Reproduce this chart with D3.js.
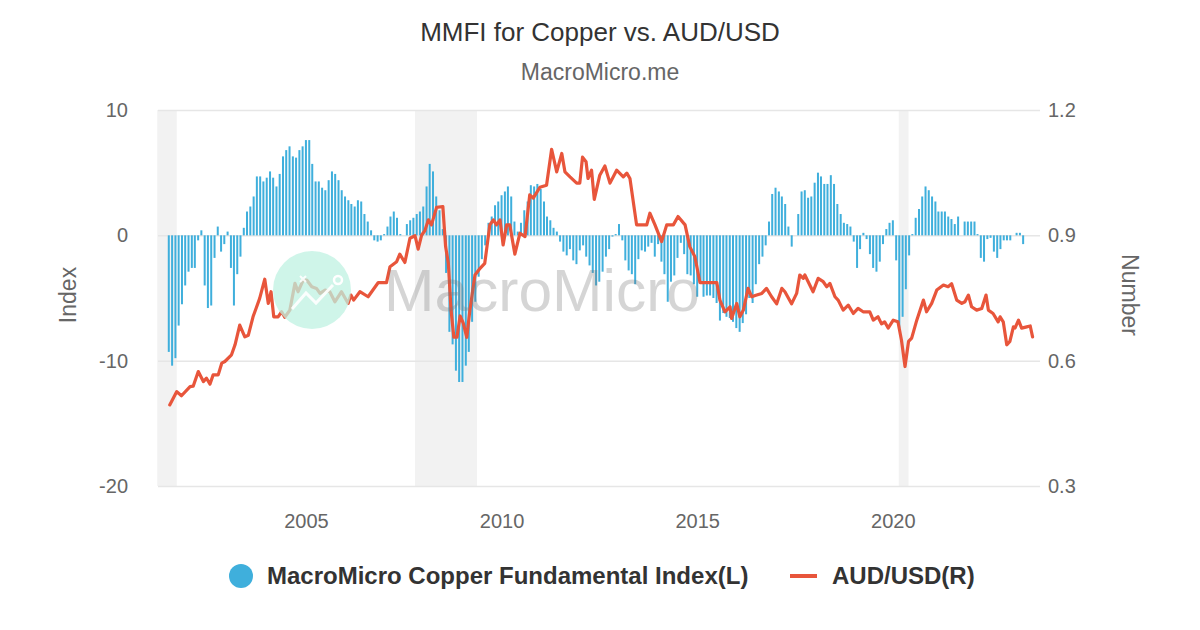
<!DOCTYPE html>
<html><head><meta charset="utf-8">
<script src="https://cdn.jsdelivr.net/npm/d3@7"></script>
<style>
body{margin:0;background:#fff;}
svg{display:block;font-family:"Liberation Sans",Arial,Helvetica,sans-serif;}
</style>
</head><body>
<svg id="chart" width="1200" height="630"></svg>
<script>
// ---------- DATA ----------
const titleText = "MMFI for Copper vs. AUD/USD";
const subtitleText = "MacroMicro.me";
const seriesNames = ["MacroMicro Copper Fundamental Index(L)", "AUD/USD(R)"];
const leftAxisTitle = "Index";
const rightAxisTitle = "Number";

// monthly index, first bar = July 2001
const copperStart = [2001, 7];
const copperIndex = [
 -9.3,-10.4,-9.8,-7.2,-5.5,-4.0,-2.9,-2.6,-2.6,-0.4,0.4,-4.0,
 -5.8,-5.6,-1.8,0.7,-1.3,-0.7,0.3,-2.6,-5.6,-3.1,-1.7,0.6,
 1.9,2.3,3.1,4.7,4.7,4.3,4.6,5.1,4.6,3.9,4.9,6.3,
 6.8,7.1,6.3,6.2,6.8,7.1,7.6,7.6,5.7,4.3,4.3,3.8,
 3.6,4.4,5.1,4.9,4.4,3.6,3.1,2.8,2.5,2.3,2.8,2.7,
 1.7,1.1,0.4,-0.4,-0.5,-0.4,0.1,0.7,1.5,1.9,1.4,0.1,
 0.0,0.9,1.2,1.4,1.7,1.9,2.3,3.9,5.7,5.1,3.1,2.0,
 0.5,-3.0,-7.7,-8.7,-10.8,-11.7,-11.7,-10.4,-9.3,-6.9,-5.3,-3.3,
 -1.9,-0.8,1.0,1.5,2.4,2.7,3.2,3.5,3.9,3.1,1.1,0.3,
 1.0,2.0,2.7,4.0,3.9,4.1,3.7,2.7,1.5,1.2,0.6,0.3,
 -0.5,-1.3,-1.6,-1.1,-2.0,-2.3,-1.2,-0.8,-1.7,-2.4,-3.0,-4.0,
 -3.7,-2.9,-1.7,-1.1,-0.1,0.1,0.9,-0.4,-2.0,-2.8,-3.1,-3.9,
 -1.9,-1.2,-1.3,-0.9,-0.6,-1.7,-0.7,-2.1,-3.1,-5.3,-3.7,-3.2,
 -1.8,-0.6,-1.5,-3.1,-3.2,-3.9,-4.9,-3.8,-4.9,-4.8,-4.8,-5.0,
 -5.4,-6.8,-6.2,-6.5,-6.6,-6.9,-7.4,-7.7,-7.0,-6.3,-5.0,-5.4,
 -3.9,-2.3,-1.7,-0.8,1.1,3.3,3.8,3.5,3.1,2.5,0.7,-0.9,
 0.0,1.7,3.5,3.6,3.0,3.1,4.2,5.0,4.7,4.1,4.1,4.8,
 4.1,2.5,1.7,1.0,0.9,0.7,-0.5,-2.6,-1.1,0.2,-0.3,-1.5,
 -2.6,-2.9,-2.1,-0.7,0.5,1.0,1.2,-2.0,-7.4,-6.5,-4.3,-1.6,
 0.1,1.4,2.1,3.1,3.9,3.6,3.1,2.7,1.9,1.9,1.9,1.5,
 1.3,0.9,1.5,0.0,1.1,1.1,1.1,1.1,0.1,-1.8,-2.1,-0.3,
 -0.2,-1.3,-1.8,-1.1,-0.4,-0.4,-0.4,0.0,0.2,0.2,-0.7
];

// AUD/USD (decimal year, value)
const audYears = [
 2001.52,2001.70,2001.82,2002.04,2002.12,2002.25,2002.38,2002.46,2002.55,2002.63,2002.76,2002.85,2002.93,
 2003.10,2003.19,2003.31,2003.44,2003.53,2003.65,2003.82,2003.95,2004.04,2004.11,2004.18,2004.29,2004.38,
 2004.46,2004.59,2004.72,2004.80,2004.93,2005.02,2005.15,2005.27,2005.36,2005.49,2005.61,2005.74,2005.91,
 2006.08,2006.15,2006.22,2006.38,2006.59,2006.85,2007.06,2007.15,2007.32,2007.40,2007.53,2007.66,2007.79,
 2007.87,2007.96,2008.04,2008.13,2008.21,2008.34,2008.50,2008.57,2008.64,2008.71,2008.78,2008.86,2008.94,
 2009.02,2009.11,2009.19,2009.32,2009.45,2009.57,2009.70,2009.79,2009.87,2009.96,2010.04,2010.13,2010.21,
 2010.34,2010.47,2010.60,2010.72,2010.81,2010.98,2011.15,2011.28,2011.41,2011.54,2011.62,2011.75,2011.92,
 2012.00,2012.07,2012.16,2012.21,2012.30,2012.37,2012.51,2012.64,2012.77,2012.94,2013.11,2013.20,2013.28,
 2013.45,2013.71,2013.79,2013.92,2014.09,2014.22,2014.39,2014.51,2014.69,2014.81,2014.94,2015.07,2015.50,
 2015.58,2015.71,2015.84,2015.88,2016.01,2016.09,2016.18,2016.30,2016.39,2016.52,2016.65,2016.77,2016.90,
 2017.03,2017.16,2017.24,2017.41,2017.54,2017.62,2017.71,2017.75,2017.96,2018.09,2018.22,2018.31,2018.39,
 2018.52,2018.60,2018.73,2018.86,2018.99,2019.11,2019.24,2019.41,2019.50,2019.62,2019.71,2019.79,2019.88,
 2020.01,2020.13,2020.22,2020.31,2020.40,2020.48,2020.61,2020.78,2020.86,2020.99,2021.12,2021.29,2021.41,
 2021.50,2021.63,2021.76,2021.84,2021.93,2022.01,2022.14,2022.27,2022.38,2022.44,2022.56,2022.69,2022.74,
 2022.82,2022.91,2022.99,2023.08,2023.12,2023.21,2023.29,2023.42,2023.51,2023.57
];
const audValues = [
 0.494,0.526,0.516,0.538,0.539,0.574,0.550,0.558,0.544,0.566,0.566,0.594,0.598,
 0.614,0.638,0.685,0.657,0.661,0.705,0.749,0.795,0.737,0.765,0.705,0.705,0.717,
 0.704,0.721,0.785,0.765,0.793,0.793,0.777,0.773,0.761,0.769,0.765,0.741,0.765,
 0.737,0.757,0.745,0.765,0.753,0.787,0.787,0.825,0.837,0.855,0.835,0.893,0.899,
 0.867,0.901,0.911,0.937,0.925,0.967,0.969,0.873,0.833,0.720,0.656,0.656,0.707,
 0.690,0.656,0.721,0.805,0.821,0.833,0.925,0.937,0.925,0.937,0.877,0.925,0.925,
 0.855,0.905,0.897,0.997,0.989,1.015,1.020,1.106,1.052,1.096,1.052,1.040,1.025,
 1.025,1.087,1.076,1.036,1.056,0.986,1.044,1.066,1.025,1.056,1.040,1.049,1.036,
 0.925,0.925,0.953,0.925,0.885,0.925,0.925,0.945,0.925,0.873,0.849,0.787,0.787,
 0.745,0.717,0.729,0.701,0.737,0.705,0.721,0.773,0.753,0.757,0.761,0.773,0.753,
 0.736,0.773,0.765,0.736,0.761,0.805,0.797,0.805,0.765,0.797,0.789,0.777,0.785,
 0.753,0.745,0.721,0.733,0.713,0.725,0.717,0.717,0.697,0.705,0.688,0.693,0.678,
 0.697,0.693,0.649,0.586,0.646,0.654,0.697,0.745,0.717,0.737,0.769,0.781,0.777,
 0.784,0.745,0.737,0.741,0.757,0.729,0.721,0.725,0.757,0.721,0.713,0.693,0.705,
 0.693,0.638,0.646,0.681,0.678,0.697,0.678,0.681,0.683,0.657
];

// shaded recession periods (decimal years)
const recessionStart = [2001.20, 2007.79, 2020.15];
const recessionEnd   = [2001.70, 2009.37, 2020.40];

const leftTicks = [10, 0, -10, -20];
const rightTicks = [1.2, 0.9, 0.6, 0.3];
const xTickYears = [2005, 2010, 2015, 2020];
const xDomainYears = [2001.22, 2023.76];

// ---------- HELPERS ----------
function decToDate(y){
  const yr = Math.floor(y);
  const s = new Date(yr,0,1).getTime(), e = new Date(yr+1,0,1).getTime();
  return new Date(s + (y-yr)*(e-s));
}

// ---------- LAYOUT ----------
const svg = d3.select("#chart");
const plot = {left:158, right:1040, top:110, bottom:486};
const BLUE = "#3fafdc", RED = "#e8553b";

const x = d3.scaleTime().domain(xDomainYears.map(decToDate)).range([plot.left, plot.right]);
const yL = d3.scaleLinear().domain([-20, 10]).range([plot.bottom, plot.top]);
const yR = d3.scaleLinear().domain([0.3, 1.2]).range([plot.bottom, plot.top]);

// title
svg.append("text").attr("x",600).attr("y",41).attr("text-anchor","middle")
  .attr("font-size",26).attr("fill","#333").text(titleText);
svg.append("text").attr("x",600).attr("y",80).attr("text-anchor","middle")
  .attr("font-size",23).attr("fill","#666").text(subtitleText);

// recession bands
svg.append("g").selectAll("rect").data(recessionStart).join("rect")
  .attr("x", (d)=>x(decToDate(d)))
  .attr("width",(d,i)=>x(decToDate(recessionEnd[i]))-x(decToDate(d)))
  .attr("y",plot.top).attr("height",plot.bottom-plot.top)
  .attr("fill","#f2f2f2");

// gridlines (left axis)
svg.append("g").attr("transform",`translate(${plot.left},0)`)
  .call(d3.axisLeft(yL).tickValues(leftTicks).tickSize(-(plot.right-plot.left)).tickFormat(""))
  .call(g=>g.select(".domain").remove())
  .call(g=>g.selectAll("line").attr("stroke","#e6e6e6").attr("stroke-width",1.5));

// bars
const barData = copperIndex.map((v,i)=>({date:new Date(copperStart[0], copperStart[1]-1+i, 1), v}));
svg.append("g").selectAll("rect").data(barData).join("rect")
  .attr("x",d=>x(d.date)-1).attr("width",2)
  .attr("y",d=>yL(Math.max(0,d.v)))
  .attr("height",d=>Math.abs(yL(d.v)-yL(0)))
  .attr("fill",BLUE);

// line
const audData = audYears.map((y,i)=>({date:decToDate(y), v:audValues[i]}));
svg.append("path").datum(audData)
  .attr("d", d3.line().x(d=>x(d.date)).y(d=>yR(d.v)))
  .attr("fill","none").attr("stroke",RED).attr("stroke-width",3.2)
  .attr("stroke-linejoin","round").attr("stroke-linecap","round");

// watermark
const wm = svg.append("g").attr("pointer-events","none");
wm.append("circle").attr("cx",312).attr("cy",290).attr("r",39).attr("fill","#bff2e2").attr("opacity",0.75);
wm.append("polyline").attr("points","292,309 306,293 316,303 333,285")
  .attr("fill","none").attr("stroke","#fff").attr("stroke-width",3).attr("opacity",0.9);
wm.append("circle").attr("cx",338).attr("cy",280).attr("r",4).attr("fill","none").attr("stroke","#fff").attr("stroke-width",2.5);
wm.append("path").attr("d","M300 282 l6 -6 m0 6 l-6 -6").attr("stroke","#fff").attr("stroke-width",2).attr("opacity",0.9);
wm.append("text").attr("x",384).attr("y",311).attr("font-size",59).attr("fill","#777").attr("opacity",0.3)
  .attr("textLength",316).attr("lengthAdjust","spacingAndGlyphs").text("MacroMicro");

const tickFont = g=>g.selectAll("text").attr("font-size",20).attr("fill","#666").attr("font-family","Liberation Sans, Arial");

// left axis labels
svg.append("g").attr("transform",`translate(${plot.left-30},0)`)
  .call(d3.axisLeft(yL).tickValues(leftTicks).tickSize(0).tickPadding(0).tickFormat(d=>String(d)))
  .call(g=>g.select(".domain").remove())
  .call(tickFont);

// right axis labels
svg.append("g").attr("transform",`translate(${plot.right+8},0)`)
  .call(d3.axisRight(yR).tickValues(rightTicks).tickSize(0).tickPadding(0).tickFormat(d=>d.toFixed(1)))
  .call(g=>g.select(".domain").remove())
  .call(tickFont);

// x axis labels
svg.append("g").attr("transform",`translate(0,${plot.bottom+20})`)
  .call(d3.axisBottom(x).tickValues(xTickYears.map(y=>new Date(y,0,1))).tickFormat(d3.timeFormat("%Y")).tickSize(0).tickPadding(8))
  .call(g=>g.select(".domain").remove())
  .call(tickFont);

// axis titles
svg.append("text").attr("transform","translate(76,295) rotate(-90)").attr("text-anchor","middle")
  .attr("font-size",23).attr("fill","#666").text(leftAxisTitle);
svg.append("text").attr("transform","translate(1122,295) rotate(90)").attr("text-anchor","middle")
  .attr("font-size",23).attr("fill","#666").text(rightAxisTitle);

// legend
const lg = svg.append("g");
lg.append("circle").attr("cx",241).attr("cy",576).attr("r",12).attr("fill",BLUE);
lg.append("text").attr("x",267).attr("y",584).attr("font-size",24).attr("font-weight","bold").attr("fill","#333").text(seriesNames[0]);
lg.append("line").attr("x1",790).attr("x2",817).attr("y1",576).attr("y2",576).attr("stroke",RED).attr("stroke-width",4);
lg.append("text").attr("x",832).attr("y",584).attr("font-size",24).attr("font-weight","bold").attr("fill","#333").text(seriesNames[1]);
</script>
</body></html>
